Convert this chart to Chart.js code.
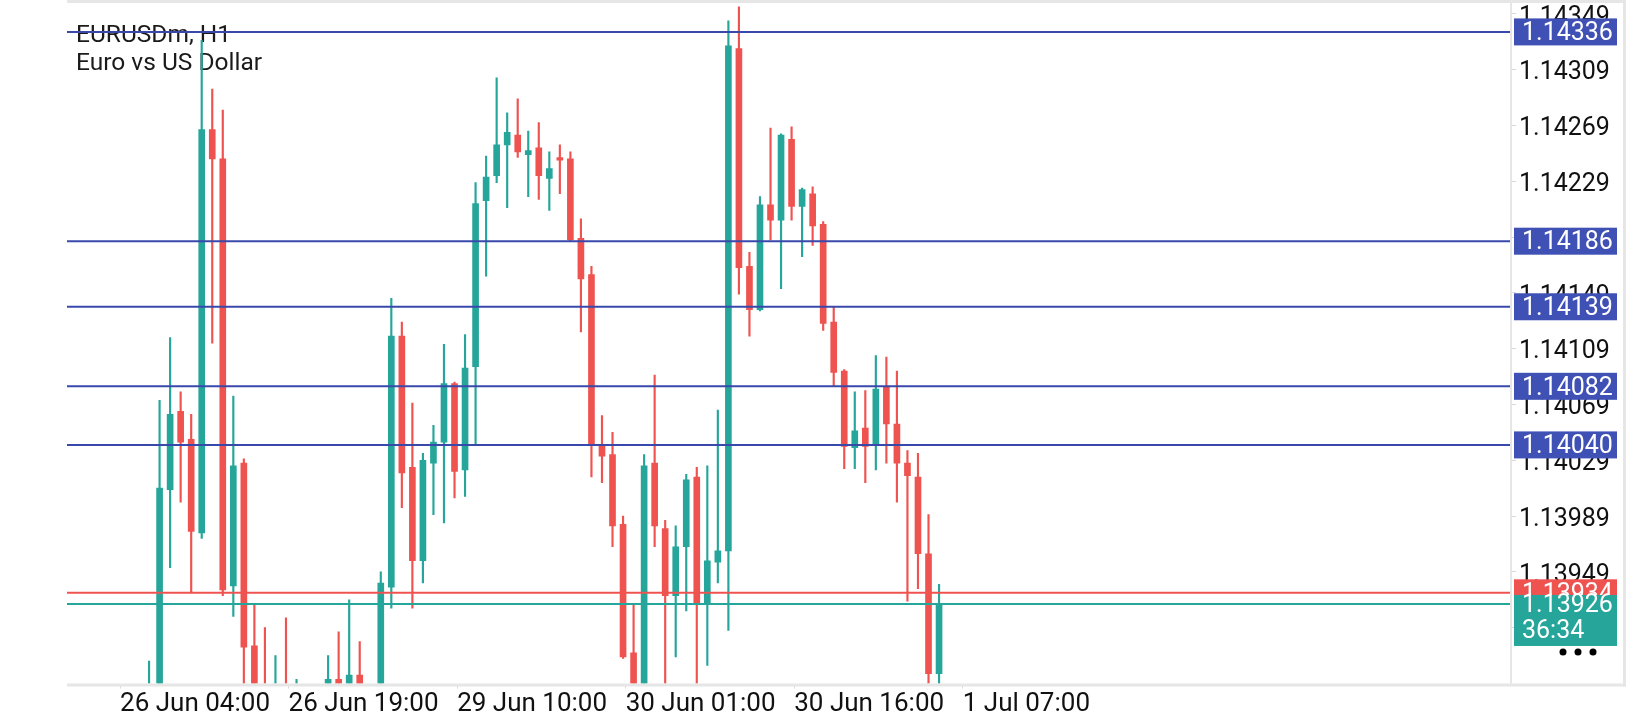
<!DOCTYPE html>
<html>
<head>
<meta charset="utf-8">
<script src="https://cdn.jsdelivr.net/npm/chart.js@4.4.1/dist/chart.umd.min.js"></script>
<style>
  html, body { margin: 0; padding: 0; background: #fff; }
  canvas { display: block; }
</style>
</head>
<body>
<canvas id="myChart" width="1640" height="720"></canvas>
<script>
// EURUSDm H1 candles, bar 0 = leftmost visible bar
const opens = [
  1.13850, 1.13860, 1.14008, 1.14064, 1.14044, 1.13977, 1.14266, 1.14245, 1.13939, 1.14027,
  1.13896, 1.13860, 1.13845, 1.13860, 1.13848, 1.13862, 1.13850, 1.13856, 1.13872, 1.13855,
  1.13875, 1.13858, 1.13852, 1.13938, 1.14118, 1.14024, 1.13957, 1.14027, 1.14042, 1.14084,
  1.14022, 1.14096, 1.14215, 1.14233, 1.14255, 1.14262, 1.14248, 1.14253, 1.14231, 1.14246,
  1.14245, 1.14188, 1.14162, 1.14039, 1.14033, 1.13983, 1.13891, 1.13855, 1.14027, 1.13980,
  1.13932, 1.13967, 1.14017, 1.13926, 1.13956, 1.13964, 1.14324, 1.14168, 1.14137, 1.14212,
  1.14201, 1.14259, 1.14211, 1.14220, 1.14198, 1.14128, 1.14093, 1.14038, 1.14052, 1.14040,
  1.14082, 1.14055, 1.14027, 1.14017, 1.13962, 1.13876
];
const highs = [
  1.13885, 1.14072, 1.14117, 1.14078, 1.14062, 1.14330, 1.14295, 1.14280, 1.14075, 1.14030,
  1.13926, 1.13909, 1.13889, 1.13916, 1.13872, 1.13866, 1.13864, 1.13889, 1.13906, 1.13929,
  1.13899, 1.13866, 1.13949, 1.14145, 1.14128, 1.14070, 1.14034, 1.14054, 1.14112, 1.14085,
  1.14119, 1.14228, 1.14247, 1.14303, 1.14278, 1.14288, 1.14265, 1.14271, 1.14250, 1.14255,
  1.14250, 1.14202, 1.14168, 1.14061, 1.14049, 1.13989, 1.13926, 1.14033, 1.14090, 1.13986,
  1.13982, 1.14019, 1.14024, 1.14025, 1.14065, 1.14344, 1.14354, 1.14178, 1.14218, 1.14267,
  1.14263, 1.14268, 1.14224, 1.14225, 1.14200, 1.14139, 1.14094, 1.14078, 1.14079, 1.14104,
  1.14103, 1.14093, 1.14036, 1.14034, 1.13990, 1.13940
];
const lows = [
  1.13830, 1.13850, 1.13952, 1.13999, 1.13934, 1.13973, 1.14113, 1.13932, 1.13917, 1.13860,
  1.13840, 1.13835, 1.13835, 1.13835, 1.13840, 1.13840, 1.13838, 1.13845, 1.13845, 1.13848,
  1.13848, 1.13840, 1.13845, 1.13923, 1.13995, 1.13923, 1.13941, 1.13990, 1.13984, 1.14002,
  1.14003, 1.14040, 1.14161, 1.14228, 1.14210, 1.14246, 1.14218, 1.14216, 1.14208, 1.14220,
  1.14186, 1.14121, 1.14017, 1.14013, 1.13967, 1.13887, 1.13845, 1.13845, 1.13967, 1.13855,
  1.13888, 1.13921, 1.13855, 1.13882, 1.13941, 1.13907, 1.14148, 1.14118, 1.14136, 1.14187,
  1.14152, 1.14201, 1.14175, 1.14183, 1.14122, 1.14082, 1.14023, 1.14023, 1.14013, 1.14022,
  1.14027, 1.13999, 1.13928, 1.13937, 1.13855, 1.13855
];
const closes = [
  1.13865, 1.14009, 1.14062, 1.14042, 1.13978, 1.14266, 1.14245, 1.13936, 1.14025, 1.13895,
  1.13850, 1.13845, 1.13860, 1.13848, 1.13862, 1.13850, 1.13856, 1.13872, 1.13855, 1.13875,
  1.13858, 1.13852, 1.13941, 1.14118, 1.14020, 1.13957, 1.14029, 1.14042, 1.14084, 1.14021,
  1.14095, 1.14213, 1.14232, 1.14255, 1.14264, 1.14250, 1.14251, 1.14233, 1.14238, 1.14244,
  1.14187, 1.14159, 1.14040, 1.14032, 1.13982, 1.13888, 1.13855, 1.14025, 1.13982, 1.13932,
  1.13967, 1.14015, 1.13926, 1.13957, 1.13964, 1.14326, 1.14167, 1.14137, 1.14212, 1.14201,
  1.14262, 1.14211, 1.14223, 1.14197, 1.14127, 1.14092, 1.14039, 1.14050, 1.14039, 1.14080,
  1.14055, 1.14027, 1.14018, 1.13962, 1.13876, 1.13926
];

// time axis labels and the bar each one belongs to
const timeLabels = ['26 Jun 04:00', '26 Jun 19:00', '29 Jun 10:00', '30 Jun 01:00', '30 Jun 16:00', '1 Jul 07:00'];
const timeLabelBars = [-3, 13, 29, 45, 61, 77];

// price axis
const priceTicks = [1.14349, 1.14309, 1.14269, 1.14229, 1.14189, 1.14149, 1.14109, 1.14069, 1.14029, 1.13989, 1.13949, 1.13909];

// horizontal levels
const levels = [1.14336, 1.14186, 1.14139, 1.14082, 1.14040];
const bidPrice = 1.13926;
const askPrice = 1.13934;
const countdown = '36:34';

const UP = '#26a69a';
const DOWN = '#ef5350';
const LEVEL = '#3949ab';
const LEVEL_BOX = '#3f51b5';
const FRAME = '#e6e6e6';
const FONT = 'Roboto, "Noto Sans", sans-serif';

const X_MIN = -7.79, X_MAX = 129.3;

const colorOf = (i) => closes[i] >= opens[i] ? UP : DOWN;

const wicks = opens.map((o, i) => ({ x: i, y: [lows[i], highs[i]] }));
const bodies = opens.map((o, i) => ({ x: i, y: [o, closes[i]] }));

const hLine = (v) => [{ x: X_MIN - 5, y: v }, { x: X_MAX + 5, y: v }];

const levelDatasets = levels.map(v => ({
    type: 'line',
    data: hLine(v),
    borderColor: LEVEL,
    borderWidth: 2,
    pointRadius: 0,
    order: 0
}));

const terminalDecor = {
    id: 'terminalDecor',
    beforeDatasetsDraw(chart) {
        const c = chart.ctx;
        const area = chart.chartArea;
        c.save();
        c.fillStyle = '#1a1a1a';
        c.font = '24.5px ' + FONT;
        c.textBaseline = 'alphabetic';
        c.fillText('EURUSDm, H1', area.left + 9, 42);
        c.fillText('Euro vs US Dollar', area.left + 9, 70);
        c.restore();
    },
    afterDraw(chart) {
        const c = chart.ctx;
        const area = chart.chartArea;
        const y = chart.scales.y;
        const outer = 1626;
        c.save();
        // frame
        c.fillStyle = FRAME;
        c.fillRect(area.left, 0, outer - area.left, 3);
        c.fillRect(area.left, area.bottom, outer - area.left, 3);
        c.fillRect(area.right - 1, 0, 2, area.bottom);
        c.fillRect(outer - 3, 0, 3, area.bottom + 3);

        const boxX = area.right + 3;
        const boxW = 103;
        c.font = '25px ' + FONT;
        c.textBaseline = 'middle';

        levels.forEach(v => {
            const py = y.getPixelForValue(v);
            c.fillStyle = LEVEL_BOX;
            c.fillRect(boxX, py - 13.5, boxW, 27);
            c.fillStyle = '#fff';
            c.fillText(v.toFixed(5), boxX + 8, py + 2);
        });

        // ask
        const pa = y.getPixelForValue(askPrice);
        c.fillStyle = DOWN;
        c.fillRect(boxX, pa - 13.5, boxW, 27);
        c.fillStyle = '#fff';
        c.fillText(askPrice.toFixed(5), boxX + 8, pa + 2);

        // bid + countdown
        const pb = y.getPixelForValue(bidPrice);
        c.fillStyle = UP;
        c.fillRect(boxX, pb - 9, boxW, 51);
        c.fillStyle = '#fff';
        c.fillText(bidPrice.toFixed(5), boxX + 8, pb + 2);
        c.fillText(countdown, boxX + 8, pb + 28);

        // menu dots
        c.fillStyle = '#000';
        [1563, 1578, 1593].forEach(dx => {
            c.beginPath();
            c.arc(dx, 652, 3.5, 0, Math.PI * 2);
            c.fill();
        });
        c.restore();
    }
};

const ctx = document.getElementById('myChart').getContext('2d');
const myChart = new Chart(ctx, {
    type: 'bar',
    data: {
        datasets: [
            ...levelDatasets,
            {
                type: 'line',
                data: hLine(askPrice),
                borderColor: DOWN,
                borderWidth: 2,
                pointRadius: 0,
                order: 0
            },
            {
                type: 'line',
                data: hLine(bidPrice),
                borderColor: UP,
                borderWidth: 2,
                pointRadius: 0,
                order: 0
            },
            {
                label: 'body',
                data: bodies,
                backgroundColor: (c) => colorOf(c.dataIndex),
                borderWidth: 0,
                barThickness: 6,
                minBarLength: 2,
                grouped: false,
                order: 1
            },
            {
                label: 'wick',
                data: wicks,
                backgroundColor: (c) => colorOf(c.dataIndex),
                borderWidth: 0,
                barThickness: 1.5,
                grouped: false,
                order: 2
            }
        ]
    },
    options: {
        responsive: false,
        animation: false,
        devicePixelRatio: 1,
        layout: {
            padding: { left: 67, top: 4, right: 0, bottom: 0 }
        },
        plugins: {
            legend: { display: false },
            tooltip: { enabled: false }
        },
        scales: {
            x: {
                type: 'linear',
                min: X_MIN,
                max: X_MAX,
                offset: false,
                border: { display: false },
                grid: {
                    offset: false,
                    drawOnChartArea: false,
                    drawTicks: true,
                    tickLength: 5,
                    color: '#d9d9d9'
                },
                afterBuildTicks: (scale) => {
                    scale.ticks = timeLabelBars.map(b => ({ value: b + 0.25 }));
                },
                afterFit: (scale) => {
                    scale.height = 36.5;
                    scale.paddingLeft = 0;
                    scale.paddingRight = 0;
                },
                ticks: {
                    autoSkip: false,
                    maxRotation: 0,
                    align: 'start',
                    padding: 0,
                    color: '#111',
                    font: { family: FONT, size: 26 },
                    callback: (v, i) => timeLabels[i]
                }
            },
            y: {
                position: 'right',
                min: 1.13869,
                max: 1.14356,
                border: { display: false },
                grid: {
                    drawOnChartArea: false,
                    drawTicks: true,
                    tickLength: 5,
                    color: '#d9d9d9'
                },
                afterBuildTicks: (scale) => {
                    scale.ticks = priceTicks.map(v => ({ value: v }));
                },
                afterFit: (scale) => {
                    scale.width = 129;
                    scale.paddingTop = 0;
                    scale.paddingBottom = 0;
                },
                ticks: {
                    padding: 3,
                    labelOffset: 3.5,
                    color: '#111',
                    font: { family: FONT, size: 25 },
                    callback: (v) => Number(v).toFixed(5)
                }
            }
        }
    },
    plugins: [terminalDecor]
});
</script>
</body>
</html>
